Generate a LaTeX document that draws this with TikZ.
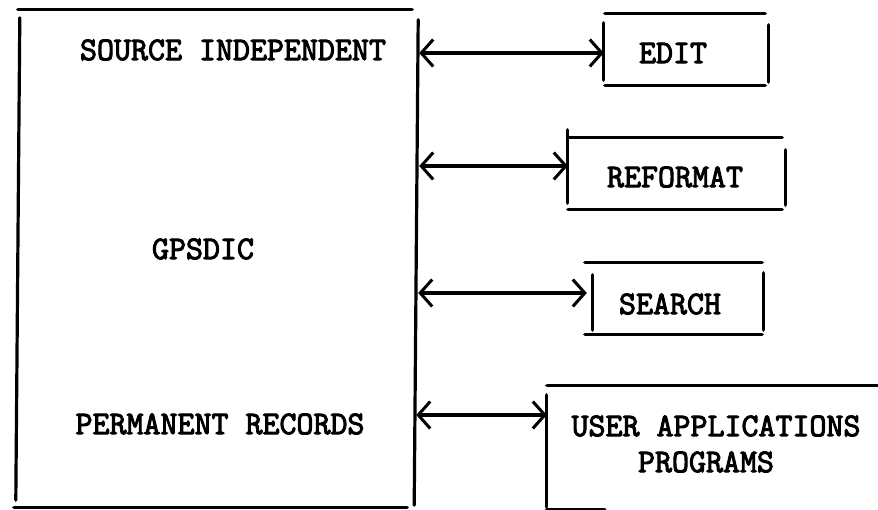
\documentclass[tikz,border=0pt]{standalone}
\usepackage{fontspec}
\newfontfamily\typew[FakeBold=3]{Latin Modern Mono}
\usetikzlibrary{arrows.meta}
\begin{document}
\begin{tikzpicture}[x=1pt,y=-1pt,
  ink/.style={line width=3.2pt, line cap=round, draw=black},
  lbl/.style={font=\fontsize{33}{36}\selectfont\typew, inner sep=0pt, anchor=center},
  frame/.style={inner sep=0pt, draw=none},
  arr/.style={ink, {Straight Barb[length=12pt,width=27pt,line width=3pt]}-{Straight Barb[length=12pt,width=27pt,line width=3pt]}}
]
\useasboundingbox (0,0) rectangle (878,510);

% frames
\node[frame, minimum width=399pt, minimum height=497pt] (main) at (217.5,258.5) {};
\node[frame, minimum width=164pt, minimum height=71pt] (edit) at (686,49.5) {};
\node[frame, minimum width=217pt, minimum height=71pt] (reformat) at (676.5,173.5) {};
\node[frame, minimum width=170pt, minimum height=71pt] (search) at (678,298.5) {};
\node[frame, minimum width=346pt, minimum height=128pt] (user) at (720,450) {};

% main box sides
\draw[ink] (main.north west) -- ([shift={(-5,0)}]main.north east);
\draw[ink] ([shift={(2,8)}]main.north west) -- ([shift={(-2,-7)}]main.south west);
\draw[ink] ([shift={(1,10)}]main.north east) -- ([shift={(-3,-2)}]main.south east);
\draw[ink] ([shift={(-4,0)}]main.south west) -- ([shift={(-10,0)}]main.south east);

% edit box sides
\draw[ink] ([shift={(1,0)}]edit.north west) -- ([shift={(-3,0)}]edit.north east);
\draw[ink] ([shift={(0,9)}]edit.north west) -- ([shift={(0,-5)}]edit.south west);
\draw[ink] ([shift={(0,11)}]edit.north east) -- ([shift={(0,-3)}]edit.south east);
\draw[ink] ([shift={(1,0)}]edit.south west) -- ([shift={(-3,0)}]edit.south east);

% reformat box sides
\draw[ink] (reformat.north west) -- ([shift={(-3,0)}]reformat.north east);
\draw[ink] ([shift={(0,-8)}]reformat.north west) -- ([shift={(0,-6)}]reformat.south west);
\draw[ink] ([shift={(0,12)}]reformat.north east) -- ([shift={(0,-4)}]reformat.south east);
\draw[ink] (reformat.south west) -- ([shift={(-3,0)}]reformat.south east);

% search box sides
\draw[ink] ([shift={(-8,0)}]search.north west) -- ([shift={(-1,0)}]search.north east);
\draw[ink] ([shift={(0,12)}]search.north west) -- ([shift={(0,-4)}]search.south west);
\draw[ink] ([shift={(0,10)}]search.north east) -- ([shift={(0,-4)}]search.south east);
\draw[ink] ([shift={(-8,0)}]search.south west) -- ([shift={(-1,0)}]search.south east);

% user box sides
\draw[ink] (user.north west) -- ([shift={(-15,0)}]user.north east);
\draw[ink] ([shift={(0,9)}]user.north west) -- ([shift={(0,-7)}]user.south west);
\draw[ink] ([shift={(0,-4.5)}]user.south west) -- ([shift={(58,-4.5)}]user.south west);

% labels
\node[lbl] (src) at (233,50) {SOURCE INDEPENDENT};
\node[lbl] (gps) at (203,249) {GPSDIC};
\node[lbl] (perm) at (220,424) {PERMANENT RECORDS};
\node[lbl] (editt) at (673,53) {EDIT};
\node[lbl] (reft) at (675,177) {REFORMAT};
\node[lbl] (srcht) at (670,304) {SEARCH};
\node[lbl] (usert) at (716,426) {USER APPLICATIONS};
\node[lbl] (progt) at (706,462) {PROGRAMS};

% arrows
\coordinate (a1) at (0,53);
\coordinate (a2) at (0,166);
\coordinate (a3) at (0,293);
\coordinate (a4) at (0,415);
\draw[arr] ([shift={(2,0)}]main.east |- a1) -- (edit.west |- a1);
\draw[arr] ([shift={(2,0)}]main.east |- a2) -- (reformat.west |- a2);
\draw[arr] ([shift={(1,0)}]main.east |- a3) -- ([shift={(-6,0)}]search.west |- a3);
\draw[arr] ([shift={(-1,0)}]main.east |- a4) -- (user.west |- a4);
\end{tikzpicture}
\end{document}
